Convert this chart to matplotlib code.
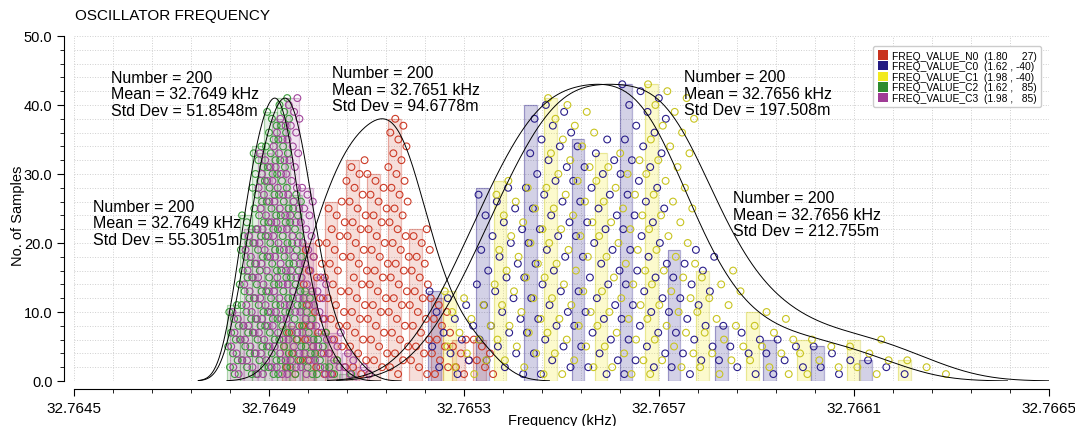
import numpy as np
import matplotlib.pyplot as plt
from matplotlib.patches import Patch
from matplotlib.ticker import FixedLocator, MultipleLocator, FormatStrFormatter

plt.rcParams['font.family'] = ['Liberation Sans', 'DejaVu Sans']

# Histogramy (10 tříd na sérii): začátek, šířka třídy, četnosti
n0_start, n0_step = 32.764927, 0.0000435
n0_counts = [8, 20, 26, 32, 30, 38, 22, 12, 6, 6]
c0_start, c0_step = 32.765226, 0.0000983
c0_counts = [13, 28, 40, 35, 43, 19, 8, 6, 5, 3]
c1_start, c1_step = 32.765257, 0.0001037
c1_counts = [13, 29, 41, 33, 43, 16, 10, 6, 6, 3]
c2_start, c2_step = 32.764814, 0.0000256
c2_counts = [11, 24, 34, 39, 41, 27, 13, 7, 3, 1]
c3_start, c3_step = 32.764820, 0.0000287
c3_counts = [10, 22, 33, 38, 41, 28, 15, 7, 4, 2]

labels = ['FREQ_VALUE_N0  (1.80     27)',
          'FREQ_VALUE_C0  (1.62 , -40)',
          'FREQ_VALUE_C1  (1.98 , -40)',
          'FREQ_VALUE_C2  (1.62 ,   85)',
          'FREQ_VALUE_C3  (1.98 ,   85)']
means = ['32.7651', '32.7656', '32.7656', '32.7649', '32.7649']
stds = ['94.6778m', '212.755m', '197.508m', '51.8548m', '55.3051m']

x_ticks = [32.7645, 32.7649, 32.7653, 32.7657, 32.7661, 32.7665]

legend_colors = ['#c8321e', '#231a82', '#f2ea1e', '#2e8b2e', '#a03c96']
marker_colors = ['#cc3a26', '#2a1e8a', '#c8c420', '#3a9a3a', '#a0449a']
fill_alpha = [0.16, 0.2, 0.22, 0.12, 0.14]
bandwidths = [0.000045, 0.000085, 0.00009, 0.000024, 0.000026]
text_pos = [(32.765029, 42.3), (32.765852, 24.2), (32.765751, 41.7),
            (32.7645759, 41.6), (32.764539, 22.9)]
bar_w = 0.0000262


def sample_points(start, step, counts):
    # každý vzorek jako kroužek: x uvnitř třídy, y = pořadí ve třídě
    xs, ys = [], []
    for k, n in enumerate(counts):
        for i in range(1, n + 1):
            frac = (i * 0.6180339 + k * 0.37) % 1.0
            xs.append(start + k * step + frac * step)
            ys.append(i)
    return xs, ys


def smooth(start, step, counts, bw):
    centers = start + step * (np.arange(len(counts)) + 0.5)
    xs = np.linspace(centers[0] - 3 * bw, centers[-1] + 3 * bw, 400)
    w = np.array(counts)[None, :]
    ys = (w * np.exp(-0.5 * ((xs[:, None] - centers[None, :]) / bw) ** 2)).sum(axis=1)
    return xs, ys / ys.max() * max(counts)


fig = plt.figure(figsize=(10.75, 4.27), dpi=100)
ax = fig.add_axes([0.0688, 0.1054, 0.907, 0.808])

hists = [(n0_start, n0_step, n0_counts), (c0_start, c0_step, c0_counts),
         (c1_start, c1_step, c1_counts), (c2_start, c2_step, c2_counts),
         (c3_start, c3_step, c3_counts)]

for i, (start, step, counts) in enumerate(hists):
    lefts = start + step * np.arange(len(counts))
    ax.bar(lefts, counts, width=bar_w, align='edge',
           color=legend_colors[i], alpha=fill_alpha[i], linewidth=0, zorder=2)
    ax.bar(lefts, counts, width=bar_w, align='edge', fill=False,
           edgecolor=marker_colors[i], alpha=0.35, linewidth=0.9, zorder=2)
    sx, sy = sample_points(start, step, counts)
    ax.scatter(sx, sy, s=24, facecolors='none', edgecolors=marker_colors[i],
               linewidths=0.8, zorder=3)

for i, (start, step, counts) in enumerate(hists):
    cx, cy = smooth(start, step, counts, bandwidths[i])
    ax.plot(cx, cy, color='black', lw=0.7, zorder=4)
    ax.text(text_pos[i][0], text_pos[i][1],
            'Number = %d\nMean = %s kHz\nStd Dev = %s' % (sum(counts), means[i], stds[i]),
            fontsize=11.5, va='center', ha='left', linespacing=1.12, zorder=5)

ax.set_xlim(32.7645, 32.7665)
ax.set_ylim(0, 50)
ax.xaxis.set_major_locator(FixedLocator(x_ticks))
ax.xaxis.set_minor_locator(FixedLocator(list(np.arange(32.7645, 32.76651, 0.00008))))
ax.xaxis.set_major_formatter(FormatStrFormatter('%.4f'))
ax.yaxis.set_major_locator(MultipleLocator(10))
ax.yaxis.set_minor_locator(MultipleLocator(2))
ax.yaxis.set_major_formatter(FormatStrFormatter('%.1f'))
ax.grid(which='both', linestyle=':', color='#cfcfcf', linewidth=0.7, zorder=0)
ax.set_axisbelow(True)

for s in ['top', 'right']:
    ax.spines[s].set_visible(False)
ax.spines['left'].set_position(('outward', 7))
ax.spines['bottom'].set_position(('outward', 6))
ax.tick_params(which='major', direction='out', length=5, labelsize=11)
ax.tick_params(which='minor', direction='out', length=3)
ax.tick_params(axis='y', labelsize=10.5)

handles = [Patch(facecolor=c, edgecolor='none') for c in legend_colors]
ax.legend(handles, labels, loc='upper right', bbox_to_anchor=(0.997, 0.985),
          fontsize=7.4, handlelength=1.0, handleheight=1.0, handletextpad=0.4,
          labelspacing=0.05, borderpad=0.4, fancybox=True, edgecolor='#cccccc',
          framealpha=1)

fig.text(75 / 1075, 1 - 16 / 427, 'OSCILLATOR FREQUENCY', fontsize=11, va='center')
fig.text(18 / 1075, 1 - 216 / 427, 'No. of Samples', fontsize=10.5, rotation=90,
         va='center', ha='center')
fig.text(562 / 1075, 1 - 421 / 427, 'Frequency (kHz)', fontsize=10.5,
         va='center', ha='center')

fig.savefig('out.png', dpi=100)
